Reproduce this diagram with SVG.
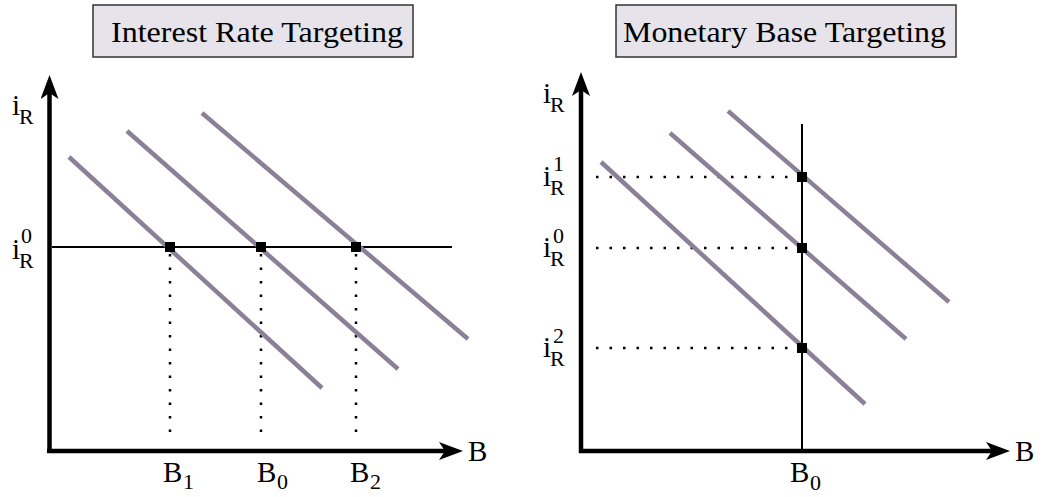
<svg xmlns="http://www.w3.org/2000/svg" width="1045" height="497" viewBox="0 0 1045 497" font-family="'Liberation Serif', serif">
<style>
.t{font-family:"Liberation Serif",serif}
.title{font-size:30px}
.big{font-size:29px}
.sm{font-size:22px}
.box{fill:#e6e4ea;stroke:#333;stroke-width:1.5}
.axis{stroke:#000;stroke-width:4.5;fill:none}
.thin{stroke:#000;stroke-width:2;fill:none}
.curve{stroke:#8a8198;stroke-width:4.5;fill:none}
.dot{stroke:#000;stroke-width:2.5;stroke-dasharray:2.5 11;fill:none}
.pt{fill:#000}
</style>
<defs>
<marker id="ah" viewBox="0 0 24 18" refX="8" refY="9" markerWidth="24" markerHeight="18" markerUnits="userSpaceOnUse" orient="auto">
<path d="M0,0 L24,9 L0,18 L6,9 Z" fill="#000"/>
</marker>
</defs>

<g id="title-left">
<rect class="box" x="93" y="5" width="320" height="52"/>
<text class="t title" x="111" y="42" textLength="292" lengthAdjust="spacingAndGlyphs">Interest Rate Targeting</text>
</g>
<g id="title-right">
<rect class="box" x="616" y="5" width="340" height="52"/>
<text class="t title" x="623" y="42" textLength="323" lengthAdjust="spacingAndGlyphs">Monetary Base Targeting</text>
</g>

<g id="connectors">
<line class="dot" x1="170" y1="254" x2="170" y2="440"/>
<line class="dot" x1="261" y1="254" x2="261" y2="440"/>
<line class="dot" x1="356" y1="254" x2="356" y2="440"/>
<line class="thin" x1="52" y1="247" x2="452" y2="247"/>
<line class="curve" x1="69" y1="157" x2="322" y2="388"/>
<line class="curve" x1="127" y1="131" x2="398" y2="369"/>
<line class="curve" x1="202" y1="113" x2="468" y2="339"/>
<line class="axis" x1="49.5" y1="453" x2="49.5" y2="91" marker-end="url(#ah)"/>
<line class="axis" x1="47" y1="451" x2="447" y2="451" marker-end="url(#ah)"/>
<line class="dot" x1="596" y1="177" x2="798" y2="177"/>
<line class="dot" x1="596" y1="248" x2="798" y2="248"/>
<line class="dot" x1="596" y1="348" x2="798" y2="348"/>
<line class="thin" x1="802" y1="124" x2="802" y2="451"/>
<line class="curve" x1="601" y1="162" x2="865" y2="404"/>
<line class="curve" x1="670" y1="133" x2="906" y2="339"/>
<line class="curve" x1="728" y1="111" x2="949" y2="302"/>
<line class="axis" x1="581" y1="453" x2="581" y2="88" marker-end="url(#ah)"/>
<line class="axis" x1="579" y1="451" x2="994" y2="451" marker-end="url(#ah)"/>
</g>

<g id="points-left">
<rect class="pt" x="165" y="242" width="10" height="10"/>
<rect class="pt" x="256" y="242" width="10" height="10"/>
<rect class="pt" x="351" y="242" width="10" height="10"/>
</g>
<g id="points-right">
<rect class="pt" x="797" y="172" width="10" height="10"/>
<rect class="pt" x="797" y="243" width="10" height="10"/>
<rect class="pt" x="797" y="343" width="10" height="10"/>
</g>

<g id="labels-left">
<text class="t"><tspan class="big" x="12" y="115">i</tspan><tspan class="sm" x="19" y="124">R</tspan></text>
<text class="t"><tspan class="big" x="12" y="259">i</tspan><tspan class="sm" x="19" y="268">R</tspan></text>
<text class="t sm" x="21" y="243">0</text>
<text class="t big" x="468" y="461">B</text>
<text class="t"><tspan class="big" x="163" y="482">B</tspan><tspan class="sm" x="183" y="489">1</tspan></text>
<text class="t"><tspan class="big" x="257" y="482">B</tspan><tspan class="sm" x="277" y="489">0</tspan></text>
<text class="t"><tspan class="big" x="350" y="482">B</tspan><tspan class="sm" x="370" y="489">2</tspan></text>
</g>
<g id="labels-right">
<text class="t"><tspan class="big" x="543" y="103">i</tspan><tspan class="sm" x="550" y="112">R</tspan></text>
<text class="t"><tspan class="big" x="543" y="186">i</tspan><tspan class="sm" x="550" y="195">R</tspan></text>
<text class="t sm" x="553" y="171">1</text>
<text class="t"><tspan class="big" x="543" y="257">i</tspan><tspan class="sm" x="550" y="266">R</tspan></text>
<text class="t sm" x="553" y="243">0</text>
<text class="t"><tspan class="big" x="543" y="357">i</tspan><tspan class="sm" x="550" y="366">R</tspan></text>
<text class="t sm" x="553" y="343">2</text>
<text class="t big" x="1015" y="461">B</text>
<text class="t"><tspan class="big" x="790" y="482">B</tspan><tspan class="sm" x="810" y="490">0</tspan></text>
</g>
</svg>
